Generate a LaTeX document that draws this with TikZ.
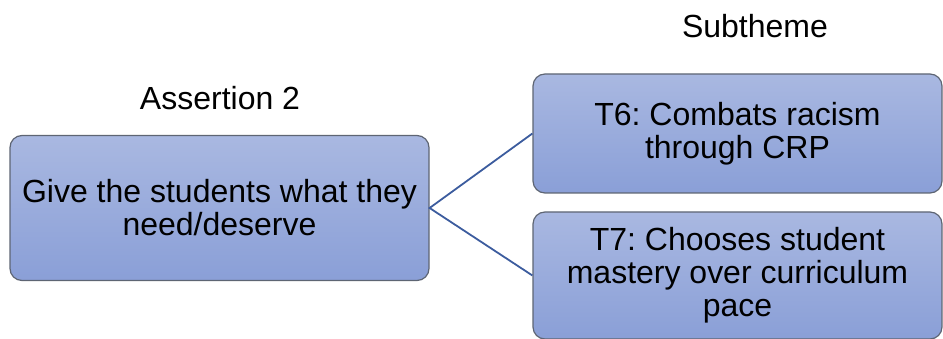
\documentclass[tikz,border=0pt]{standalone}
\usepackage{fontspec}
\setmainfont{Liberation Sans}
\frenchspacing
\definecolor{boxtop}{HTML}{A9B8E1}
\definecolor{boxbot}{HTML}{8A9FD7}
\definecolor{boxline}{HTML}{5E6573}
\definecolor{linkcol}{HTML}{3C5C9E}

\tikzset{
  theme/.style={draw=boxline, line width=1.2pt, rounded corners=12pt,
    top color=boxtop, bottom color=boxbot, inner sep=0pt, align=center,
    font=\fontsize{32}{33}\selectfont},
  heading/.style={font=\fontsize{32}{36}\selectfont, inner sep=0pt}
}

\begin{document}
\begin{tikzpicture}[x=1pt, y=-1pt]
  \useasboundingbox (0,0) rectangle (943,339);

  % labels
  \node[heading] (asslbl) at (220,98) {Assertion 2};
  \node[heading] (sublbl) at (755,26) {Subtheme};

  % boxes
  \node[theme, minimum width=419pt, minimum height=145pt] (assert) at (219.5,208)
    {Give the students what they\\need/deserve};
  \node[theme, minimum width=409pt, minimum height=119pt] (t6) at (737.5,133.5)
    {T6: Combats racism\\through CRP};
  \node[theme, minimum width=409pt, minimum height=127pt] (t7) at (737.5,275.5)
    {T7: Chooses student\\mastery over curriculum\\pace};

  % connectors
  \draw[linkcol, line width=1.8pt] (t6.west) -- (assert.east) -- (t7.west);
\end{tikzpicture}
\end{document}
